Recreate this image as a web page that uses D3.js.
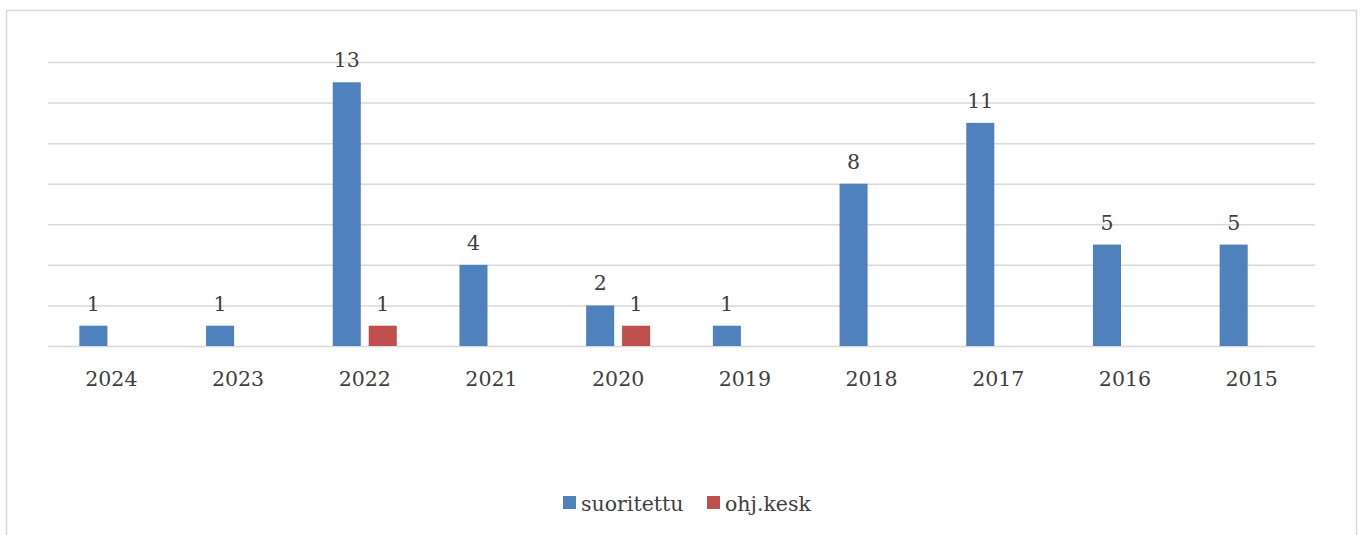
<!DOCTYPE html>
<html>
<head>
<meta charset="utf-8">
<script src="https://cdn.jsdelivr.net/npm/d3@7"></script>
<style>
  body { margin: 0; background: #fff; }
  svg { display: block; font-family: "DejaVu Serif", serif; }
</style>
</head>
<body>
<svg width="1360" height="535"></svg>
<script>
const years = ["2024", "2023", "2022", "2021", "2020", "2019", "2018", "2017", "2016", "2015"];
const suoritettu = [1, 1, 13, 4, 2, 1, 8, 11, 5, 5];
const ohjKesk = [null, null, 1, null, 1, null, null, null, null, null];
const seriesNames = ["suoritettu", "ohj.kesk"];
const seriesColors = ["#4F81BD", "#C0504D"];
const yTicks = [0, 2, 4, 6, 8, 10, 12, 14];

const svg = d3.select("svg");
const width = +svg.attr("width");
const height = +svg.attr("height");

const margin = {top: 62, right: 45, left: 48, bottom: 189};
const innerWidth = width - margin.left - margin.right;
const innerHeight = height - margin.top - margin.bottom;

// chart frame
svg.append("rect")
  .attr("x", 6.5).attr("y", 10.5)
  .attr("width", 1350).attr("height", 540)
  .attr("fill", "none")
  .attr("stroke", "#d9d9d9")
  .attr("stroke-width", 1.5);

const g = svg.append("g")
  .attr("transform", `translate(${margin.left}, ${margin.top})`);

const xScale = d3.scaleBand()
  .domain(years)
  .range([0, innerWidth]);

const xSub = d3.scaleBand()
  .domain(seriesNames)
  .range([xScale.bandwidth() / 2 - 32, xScale.bandwidth() / 2 + 32])
  .paddingInner(0.22);

const yScale = d3.scaleLinear()
  .domain([0, 14])
  .range([innerHeight, 0]);

// gridlines
g.append("g")
  .call(d3.axisLeft(yScale).tickValues(yTicks).tickSize(-innerWidth).tickFormat(""))
  .call(a => a.select(".domain").remove())
  .call(a => a.selectAll("text").remove())
  .selectAll("line")
    .attr("stroke", "#d9d9d9")
    .attr("stroke-width", 1.5);

// x axis labels
g.append("g")
  .attr("transform", `translate(0, ${innerHeight})`)
  .call(d3.axisBottom(xScale).tickSize(0).tickPadding(0))
  .call(a => a.select(".domain").remove())
  .selectAll("text")
    .attr("dy", 0)
    .attr("y", 40)
    .attr("fill", "#404040")
    .style("font-family", "DejaVu Serif")
    .style("font-size", "20.5px");

const data = years.map((y, i) => ({
  year: y,
  values: [
    {series: seriesNames[0], value: suoritettu[i], color: seriesColors[0]},
    {series: seriesNames[1], value: ohjKesk[i], color: seriesColors[1]}
  ].filter(d => d.value != null)
}));

const groups = g.selectAll(".grp").data(data)
  .enter().append("g")
    .attr("class", "grp")
    .attr("transform", d => `translate(${xScale(d.year)}, 0)`);

groups.selectAll("rect").data(d => d.values)
  .enter().append("rect")
    .attr("x", d => xSub(d.series))
    .attr("y", d => yScale(d.value))
    .attr("width", xSub.bandwidth())
    .attr("height", d => innerHeight - yScale(d.value))
    .attr("fill", d => d.color);

groups.selectAll("text").data(d => d.values)
  .enter().append("text")
    .attr("x", d => xSub(d.series) + xSub.bandwidth() / 2)
    .attr("y", d => yScale(d.value) - 15)
    .attr("text-anchor", "middle")
    .attr("fill", "#404040")
    .style("font-size", "20.5px")
    .text(d => d.value);

// legend
const legend = svg.append("g")
  .attr("transform", "translate(563, 496)");
const legendX = [0, 144];
seriesNames.forEach((name, i) => {
  legend.append("rect")
    .attr("x", legendX[i]).attr("y", 0)
    .attr("width", 13).attr("height", 13)
    .attr("fill", seriesColors[i]);
  legend.append("text")
    .attr("x", legendX[i] + 18).attr("y", 15)
    .attr("fill", "#404040")
    .style("font-size", "20.5px")
    .text(name);
});
</script>
</body>
</html>
